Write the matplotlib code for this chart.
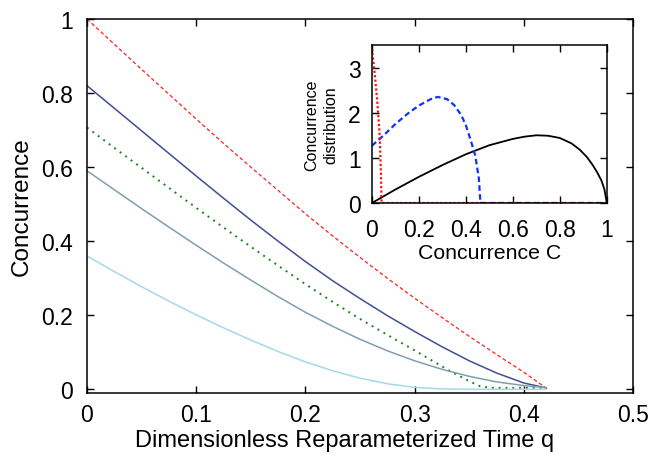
import numpy as np
import matplotlib
matplotlib.use("Agg")
from matplotlib import pyplot as plt

plt.rcParams['font.family'] = ['Liberation Sans', 'DejaVu Sans']

# main panel: concurrence vs reparameterized time q
q = [0.0, 0.025, 0.05, 0.075, 0.1, 0.125, 0.15, 0.175, 0.2, 0.225,
     0.25, 0.275, 0.3, 0.325, 0.35, 0.375, 0.4, 0.42]
conc_navy = [0.820, 0.759, 0.698, 0.637, 0.576, 0.516, 0.457, 0.400, 0.345, 0.293,
             0.245, 0.199, 0.156, 0.115, 0.077, 0.044, 0.017, 0.004]
conc_gray = [0.590, 0.539, 0.488, 0.438, 0.389, 0.341, 0.295, 0.250, 0.208, 0.170,
             0.135, 0.104, 0.077, 0.054, 0.035, 0.020, 0.010, 0.005]
conc_light = [0.360, 0.318, 0.277, 0.238, 0.201, 0.166, 0.133, 0.102, 0.074, 0.050,
              0.030, 0.015, 0.005, 0.001, 0.0, 0.0, 0.0, 0.0]
q_red = [0.0, 0.025, 0.05, 0.075, 0.1, 0.125, 0.15, 0.175, 0.2, 0.225,
         0.25, 0.275, 0.3, 0.325, 0.35, 0.375, 0.4, 0.422]
conc_red = [1.0, 0.932, 0.864, 0.797, 0.730, 0.664, 0.600, 0.537, 0.474, 0.414,
            0.356, 0.300, 0.246, 0.194, 0.143, 0.094, 0.046, 0.0]
q_green = [0.0, 0.025, 0.05, 0.075, 0.1, 0.125, 0.15, 0.175, 0.2, 0.225,
           0.25, 0.275, 0.3, 0.325, 0.335, 0.35, 0.36, 0.37, 0.4, 0.42]
conc_green = [0.707, 0.652, 0.598, 0.544, 0.490, 0.437, 0.385, 0.334, 0.284, 0.236,
              0.190, 0.147, 0.105, 0.062, 0.045, 0.022, 0.008, 0.004, 0.004, 0.004]

# inset: concurrence distributions
c_black = [0.0, 0.1, 0.2, 0.3, 0.4, 0.5, 0.6, 0.65, 0.7, 0.75, 0.8, 0.85, 0.885, 0.915,
           0.94, 0.96, 0.977, 0.99, 1.0]
dist_black = [0.0, 0.3, 0.58, 0.84, 1.08, 1.28, 1.42, 1.47, 1.5, 1.49, 1.44, 1.32, 1.18, 1.02,
              0.84, 0.67, 0.5, 0.3, 0.0]
c_blue = [0.0, 0.05, 0.1, 0.15, 0.2, 0.25, 0.28, 0.32, 0.35, 0.38, 0.4, 0.42, 0.44,
          0.455, 0.462, 1.0]
dist_blue = [1.27, 1.5, 1.75, 1.97, 2.16, 2.3, 2.35, 2.3, 2.17, 1.95, 1.72, 1.4, 1.05,
             0.55, 0.0, 0.0]
c_red = [0.0, 0.011, 0.022, 0.033, 0.038, 0.041, 1.0]
dist_red = [3.42, 2.9, 2.3, 1.5, 0.7, 0.0, 0.0]

fig = plt.figure(figsize=(6.56, 4.6), dpi=100)
ax = fig.add_axes([0.1326, 0.1435, 0.8324, 0.813])

ax.plot(q_red, conc_red, color='#ff2020', lw=0.9, ls=(0, (3, 2)))
ax.plot(q, conc_navy, color='#3f4f94', lw=1.1)
ax.plot(q_green, conc_green, color='#1f7f1f', lw=1.4, ls=(0, (1, 2.5)))
ax.plot(q, conc_gray, color='#7f9fb0', lw=1.1)
ax.plot(q, conc_light, color='#a8d8e8', lw=1.1)

ax.set_xlim(0, 0.5)
ax.set_ylim(-0.01, 1)
ax.set_xticks([0, 0.1, 0.2, 0.3, 0.4, 0.5])
ax.set_xticklabels(['0', '0.1', '0.2', '0.3', '0.4', '0.5'])
ax.set_yticks([0, 0.2, 0.4, 0.6, 0.8, 1])
ax.set_yticklabels(['0', '0.2', '0.4', '0.6', '0.8', '1'])
ax.tick_params(direction='in', length=5, width=1, top=True, right=True,
               labelsize=16.5)
ax.tick_params(axis='x', pad=7)
ax.tick_params(axis='y', pad=10)
for s in ax.spines.values():
    s.set_linewidth(1.1)
ax.set_xlabel('Dimensionless Reparameterized Time q', fontsize=17)
ax.xaxis.set_label_coords(0.4725, -0.095)
ax.set_ylabel('Concurrence', fontsize=17.5)
ax.yaxis.set_label_coords(-0.1, 0.5)

# inset
ins = fig.add_axes([0.567, 0.5565, 0.358, 0.3435])
ins.plot(c_black, dist_black, color='black', lw=1.3)
ins.plot(c_blue, dist_blue, color='#1030ff', lw=1.6, ls=(0, (2.5, 1.5)))
ins.plot(c_red, dist_red, color='#ff1010', lw=1.6, ls=(0, (1, 1)))
ins.set_xlim(0, 1)
ins.set_ylim(0, 3.5)
ins.set_xticks([0, 0.2, 0.4, 0.6, 0.8, 1])
ins.set_xticklabels(['0', '0.2', '0.4', '0.6', '0.8', '1'])
ins.set_yticks([0, 1, 2, 3])
ins.tick_params(direction='in', length=5, width=1, top=True, right=True,
                labelsize=16.5)
ins.tick_params(axis='x', pad=11)
ins.tick_params(axis='y', pad=8)
for s in ins.spines.values():
    s.set_linewidth(1.1)
ins.set_xlabel('Concurrence C', fontsize=15.3, labelpad=1)
ins.set_ylabel('Concurrence\ndistribution', fontsize=11.5, linespacing=1.3)
ins.yaxis.set_label_coords(-0.145, 0.5)

fig.savefig('out.png', dpi=100)
